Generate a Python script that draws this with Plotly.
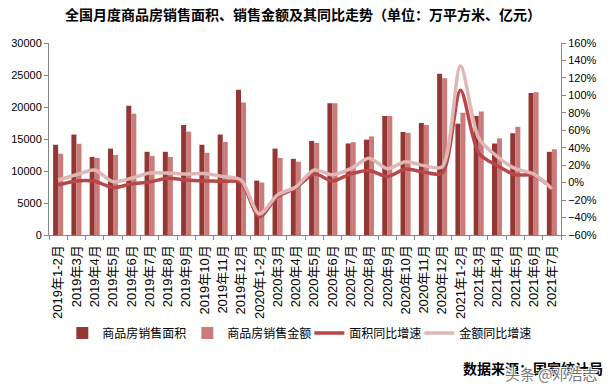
import plotly.graph_objects as go

months = ["2019年1-2月","2019年3月","2019年4月","2019年5月","2019年6月","2019年7月","2019年8月","2019年9月","2019年10月","2019年11月","2019年12月",
"2020年1-2月","2020年3月","2020年4月","2020年5月","2020年6月","2020年7月","2020年8月","2020年9月","2020年10月","2020年11月","2020年12月",
"2021年1-2月","2021年3月","2021年4月","2021年5月","2021年6月","2021年7月"]
area = [14100,15700,12200,13500,20200,13000,13000,17200,14100,15700,22700,8500,13500,11900,14700,20600,14300,14900,18600,16100,17500,25200,17400,18600,14300,15900,22200,13000]
amount = [12700,14250,12050,12500,18950,12350,12200,16150,12850,14550,20700,8200,12050,11450,14400,20600,14500,15400,18600,15950,17200,24500,19100,19300,15100,16900,22300,13400]
area_yoy = [-2.6,2,1.6,-5.7,-1.5,0.8,5,3,2,1.5,0,-39,-16,-6,10,2,10,14,7,15.7,12,11,106,34,19.5,9,8.5,-6]
amount_yoy = [3,9,14.5,1,5,11,11,10,10.5,7,3,-36,-14,-5,14.5,9,16,28,16,24,19.5,18,134,51,30,16,10,-7]

FONT = "Liberation Sans, Noto Sans CJK SC, sans-serif"
CJK = "Noto Sans CJK SC"
AXIS = "#868686"
fig = go.Figure()
fig.add_bar(x=months, y=area, name="商品房销售面积", marker_color="#943634", marker_line_width=0, legendwidth=80)
fig.add_bar(x=months, y=amount, name="商品房销售金额", marker_color="#C97C7A", marker_line_width=0, legendwidth=77)
fig.add_scatter(x=months, y=area_yoy, name="面积同比增速", mode="lines", yaxis="y2", legendwidth=65,
                line=dict(color="#B8474A", width=3.5, shape="spline", smoothing=0.8))
fig.add_scatter(x=months, y=amount_yoy, name="金额同比增速", mode="lines", yaxis="y2", legendwidth=72,
                line=dict(color="#E0B7B5", width=3.5, shape="spline", smoothing=0.8))
fig.update_layout(
    width=607, height=383, margin=dict(l=41, r=54, t=35, b=156),
    autosize=False,
    paper_bgcolor="white", plot_bgcolor="white",
    font=dict(family=FONT, size=11, color="black"),
    title=dict(text="<b>全国月度商品房销售面积、销售金额及其同比走势（单位：万平方米、亿元）</b>",
               x=0.486, xanchor="center", y=0.982, yanchor="middle",
               font=dict(size=14, color="black", family=CJK)),
    barmode="group", bargap=0.45, bargroupgap=0,
    xaxis=dict(type="category", tickangle=-90, tickson="boundaries", ticks="outside", ticklen=4,
               linecolor=AXIS, tickcolor=AXIS, showline=True, showgrid=False,
               tickfont=dict(size=13), ticklabelstandoff=4, automargin=False),
    yaxis=dict(range=[0,30000], dtick=5000, ticks="outside", ticklen=4, linecolor=AXIS, tickcolor=AXIS,
               showline=True, showgrid=False, zeroline=False, tickformat="d", automargin=False),
    yaxis2=dict(range=[-60,160], dtick=20, side="right", overlaying="y", ticks="outside", ticklen=4,
                linecolor=AXIS, tickcolor=AXIS, showline=True, showgrid=False, zeroline=False,
                ticksuffix="%", automargin=False),
    legend=dict(orientation="h", x=0.026, xanchor="left", y=-0.51, yanchor="middle",
                font=dict(size=12), itemwidth=30, traceorder="normal", bgcolor="rgba(0,0,0,0)"),
    annotations=[
        dict(text="<b>数据来源：国家统计局</b>", xref="paper", yref="paper", x=1.086, y=-0.693,
             xanchor="right", yanchor="middle", showarrow=False, font=dict(size=14, family=CJK)),
        dict(text="头条 @邓浩志", xref="paper", yref="paper", x=1.076, y=-0.719, xanchor="right", yanchor="middle",
             showarrow=False, font=dict(size=15, color="rgba(110,110,110,0.95)", family=CJK,
                                         shadow="1px 1px 0 white, -1px -1px 0 white, 1px -1px 0 white, -1px 1px 0 white")),
    ],
)
fig.write_html("out.html")
